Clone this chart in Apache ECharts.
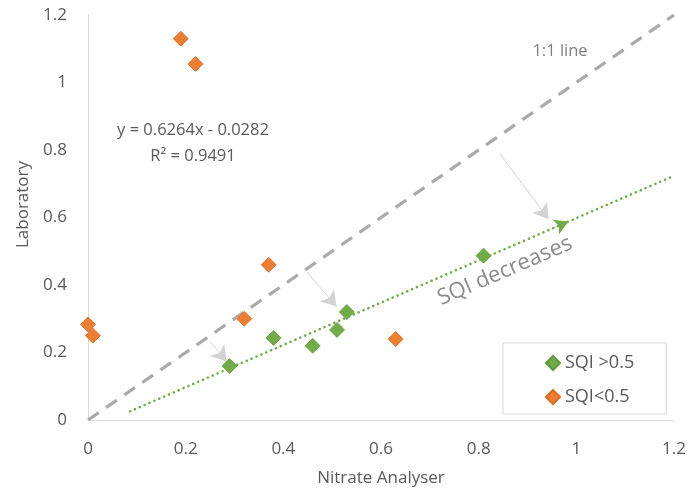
<!DOCTYPE html>
<html>
<head>
<meta charset="utf-8">
<script src="https://cdn.jsdelivr.net/npm/echarts@6/dist/echarts.min.js"></script>
<style>
  html, body { margin: 0; padding: 0; background: #fff; }
  #chart { width: 692px; height: 492px; }
</style>
</head>
<body>
<div id="chart"></div>
<script>
// Nitrate analyser readings vs laboratory values, split by signal quality index
const sqiHigh = [
  [0.29, 0.16], [0.38, 0.243], [0.46, 0.22], [0.51, 0.267], [0.53, 0.32], [0.81, 0.487]
];
const sqiLow = [
  [0.00, 0.283], [0.01, 0.25], [0.19, 1.13], [0.22, 1.055],
  [0.32, 0.30], [0.37, 0.46], [0.63, 0.24]
];
const oneToOne = [[0, 0], [1.2, 1.2]];
// Linear fit of the SQI > 0.5 group
const slope = 0.6264;
const intercept = -0.0282;
const fitRange = [0.086, 1.2];
const xTicks = [0, 0.2, 0.4, 0.6, 0.8, 1, 1.2];
const yTicks = [0, 0.2, 0.4, 0.6, 0.8, 1, 1.2];
// Grey "shift" arrows from the 1:1 line down to the fitted line
const shiftArrows = [
  [[0.250, 0.232], [0.284, 0.173]],
  [[0.448, 0.439], [0.509, 0.336]],
  [[0.844, 0.788], [0.943, 0.595]]
];
// Arrowhead on the fitted line (short stub, only the head shows)
const sqiArrowX = [0.95, 0.984];

const fitLine = fitRange.map(x => [x, slope * x + intercept]);
const fmt = v => String(v);

const FONT = '"Open Sans", "Liberation Sans", sans-serif';
const TXT = '#595959';
const GREEN = '#70AD47';
const ORANGE = '#ED7D31';

const chart = echarts.init(document.getElementById('chart'), null, { renderer: 'canvas' });

chart.setOption({
  animation: false,
  backgroundColor: '#fff',
  textStyle: { fontFamily: FONT },
  grid: { left: 88, right: 18, top: 15, bottom: 72, containLabel: false },
  xAxis: {
    type: 'value', min: 0, max: 1.2, interval: 0.2,
    name: 'Nitrate Analyser', nameLocation: 'middle', nameGap: 50,
    nameTextStyle: { color: TXT, fontSize: 17, fontFamily: FONT },
    axisLine: { show: true, lineStyle: { color: '#d9d9d9', width: 1 } },
    axisTick: { show: false },
    splitLine: { show: false },
    axisLabel: {
      color: TXT, fontSize: 17, fontFamily: FONT, margin: 21,
      formatter: v => fmt(xTicks.find(t => Math.abs(t - v) < 1e-9) ?? v)
    }
  },
  yAxis: {
    type: 'value', min: 0, max: 1.2, interval: 0.2,
    name: 'Laboratory', nameLocation: 'middle', nameGap: 56,
    nameTextStyle: { color: TXT, fontSize: 17, fontFamily: FONT, padding: [0, 0, 0, 26] },
    axisLine: { show: true, lineStyle: { color: '#d9d9d9', width: 1 } },
    axisTick: { show: false },
    splitLine: { show: false },
    axisLabel: {
      color: TXT, fontSize: 17, fontFamily: FONT, margin: 21,
      formatter: v => fmt(yTicks.find(t => Math.abs(t - v) < 1e-9) ?? v)
    }
  },
  legend: {
    orient: 'vertical',
    left: 503, top: 343,
    padding: [11, 32, 8, 42],
    borderColor: '#d9d9d9', borderWidth: 1,
    backgroundColor: '#fff',
    itemWidth: 14, itemHeight: 14, itemGap: 16,
    textStyle: { color: TXT, fontSize: 18, fontFamily: FONT },
    data: [
      { name: 'SQI >0.5', icon: 'diamond' },
      { name: 'SQI<0.5', icon: 'diamond' }
    ]
  },
  series: [
    {
      name: '1:1 line', type: 'line', data: oneToOne,
      symbol: 'none', silent: true, z: 1,
      lineStyle: { color: '#aaaaaa', width: 3.2, type: [13, 9], cap: 'butt' }
    },
    {
      name: 'fit', type: 'line', data: fitLine,
      symbol: 'none', silent: true, z: 2,
      lineStyle: { color: GREEN, width: 2.6, type: [0.1, 5.2], cap: 'round' },
      markLine: {
        silent: true, symbol: ['none', 'arrow'], symbolSize: [12, 14],
        label: { show: false },
        lineStyle: { color: GREEN, width: 0.5, type: 'solid', opacity: 1 },
        data: [[
          { coord: [sqiArrowX[0], slope * sqiArrowX[0] + intercept] },
          { coord: [sqiArrowX[1], slope * sqiArrowX[1] + intercept] }
        ]]
      }
    },
    {
      name: 'arrows', type: 'line', data: [], symbol: 'none', silent: true, z: 3,
      markLine: {
        silent: true, symbol: ['none', 'arrow'], symbolSize: [14, 15],
        label: { show: false },
        itemStyle: { color: '#dddddd' },
        lineStyle: { color: '#d3d3d3', width: 1, type: 'solid' },
        data: shiftArrows.map(([a, b]) => [{ coord: a }, { coord: b }])
      }
    },
    {
      name: 'SQI >0.5', type: 'scatter', data: sqiHigh,
      symbol: 'diamond', symbolSize: 15, z: 5,
      itemStyle: { color: GREEN, opacity: 1, borderColor: '#5f9a3b', borderWidth: 0.8 }
    },
    {
      name: 'SQI<0.5', type: 'scatter', data: sqiLow,
      symbol: 'diamond', symbolSize: 15, z: 5,
      itemStyle: { color: ORANGE, opacity: 1, borderColor: '#d86d25', borderWidth: 0.8 }
    }
  ],
  graphic: [
    {
      type: 'text', x: 193, y: 130, silent: true,
      style: { text: 'y = 0.6264x - 0.0282', fill: TXT, font: '16.5px ' + FONT, textAlign: 'center', textVerticalAlign: 'middle' }
    },
    {
      type: 'text', x: 193, y: 156, silent: true,
      style: { text: 'R² = 0.9491', fill: TXT, font: '16.5px ' + FONT, textAlign: 'center', textVerticalAlign: 'middle' }
    },
    {
      type: 'text', x: 560, y: 51, silent: true,
      style: { text: '1:1 line', fill: '#808080', font: '16.5px ' + FONT, textAlign: 'center', textVerticalAlign: 'middle' }
    },
    {
      type: 'text', x: 505, y: 271, rotation: 0.408, silent: true,
      style: { text: 'SQI decreases', fill: '#8c8c8c', font: '22px ' + FONT, textAlign: 'center', textVerticalAlign: 'middle' }
    }
  ]
});
</script>
</body>
</html>
